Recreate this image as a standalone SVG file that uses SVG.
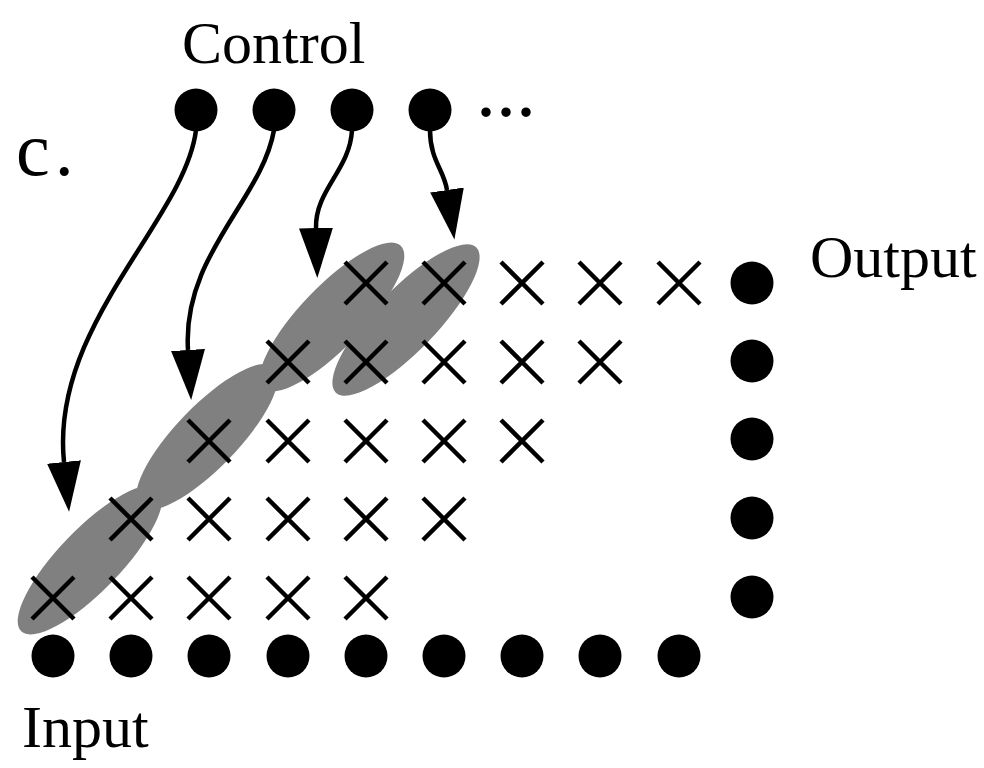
<svg xmlns="http://www.w3.org/2000/svg" width="984" height="768" viewBox="0 0 984 768">
<style>
text{font-family:"Liberation Serif","Times New Roman",serif;font-size:60px;fill:#000}
.big{font-size:76px}
.dots{font-size:80px}
.dot{fill:#000}
.x{stroke:#000;stroke-width:4.5;fill:none}
.ell{fill:#808080;stroke:none}
.arr{stroke:#000;stroke-width:4.5;fill:none;marker-end:url(#ah)}
</style>
<defs>
<marker id="ah" markerUnits="userSpaceOnUse" viewBox="0 -20 55 40" markerWidth="55" markerHeight="40" refX="0" refY="0" orient="auto">
<path d="M0,-17 L50,0 L0,17 Z" fill="#000"/>
</marker>
<g id="cross"><path class="x" d="M-21,-21 L21,21 M-21,21 L21,-21"/></g>
</defs>
<rect width="984" height="768" fill="#fff"/>
<g id="labels">
<text x="182" y="63">Control</text>
<text class="big" x="16" y="175" letter-spacing="5">c.</text>
<text x="810" y="277">Output</text>
<text x="22" y="747">Input</text>
<text class="dots" x="476" y="116">...</text>
</g>
<g id="groups">
<ellipse class="ell" cx="90" cy="560" rx="99" ry="31" transform="rotate(-46 90 560)"/>
<ellipse class="ell" cx="207" cy="437" rx="97" ry="31" transform="rotate(-46 207 437)"/>
<ellipse class="ell" cx="332" cy="317" rx="99" ry="31" transform="rotate(-46 332 317)"/>
<ellipse class="ell" cx="406" cy="320" rx="101" ry="31" transform="rotate(-46 406 320)"/>
</g>
<g id="crosses">
<use href="#cross" x="366" y="283"/><use href="#cross" x="444" y="283"/><use href="#cross" x="522" y="283"/><use href="#cross" x="600" y="283"/><use href="#cross" x="679" y="283"/>
<use href="#cross" x="288" y="362"/><use href="#cross" x="366" y="362"/><use href="#cross" x="444" y="362"/><use href="#cross" x="522" y="362"/><use href="#cross" x="600" y="362"/>
<use href="#cross" x="209" y="441"/><use href="#cross" x="288" y="441"/><use href="#cross" x="366" y="441"/><use href="#cross" x="444" y="441"/><use href="#cross" x="522" y="441"/>
<use href="#cross" x="131" y="519"/><use href="#cross" x="209" y="519"/><use href="#cross" x="288" y="519"/><use href="#cross" x="366" y="519"/><use href="#cross" x="444" y="519"/>
<use href="#cross" x="53" y="598"/><use href="#cross" x="131" y="598"/><use href="#cross" x="209" y="598"/><use href="#cross" x="288" y="598"/><use href="#cross" x="366" y="598"/>
</g>
<g id="control-nodes">
<circle class="dot" cx="196" cy="110" r="21.5"/><circle class="dot" cx="274" cy="110" r="21.5"/><circle class="dot" cx="352" cy="110" r="21.5"/><circle class="dot" cx="430" cy="110" r="21.5"/>
</g>
<g id="input-nodes">
<circle class="dot" cx="53" cy="656" r="21.5"/><circle class="dot" cx="131" cy="656" r="21.5"/><circle class="dot" cx="209" cy="656" r="21.5"/><circle class="dot" cx="288" cy="656" r="21.5"/><circle class="dot" cx="366" cy="656" r="21.5"/><circle class="dot" cx="444" cy="656" r="21.5"/><circle class="dot" cx="522" cy="656" r="21.5"/><circle class="dot" cx="600" cy="656" r="21.5"/><circle class="dot" cx="679" cy="656" r="21.5"/>
</g>
<g id="output-nodes">
<circle class="dot" cx="752" cy="283" r="21.5"/><circle class="dot" cx="752" cy="361" r="21.5"/><circle class="dot" cx="752" cy="439" r="21.5"/><circle class="dot" cx="752" cy="518" r="21.5"/><circle class="dot" cx="752" cy="597" r="21.5"/>
</g>
<g id="connectors">
<path class="arr" d="M196,130 C185,220 50,325 64,462"/>
<path class="arr" d="M274,130 C262,200 182,255 188,350"/>
<path class="arr" d="M352,130 C350,170 315,190 316,228"/>
<path class="arr" d="M430,130 C430,160 444,170 447,190"/>
</g>
</svg>
